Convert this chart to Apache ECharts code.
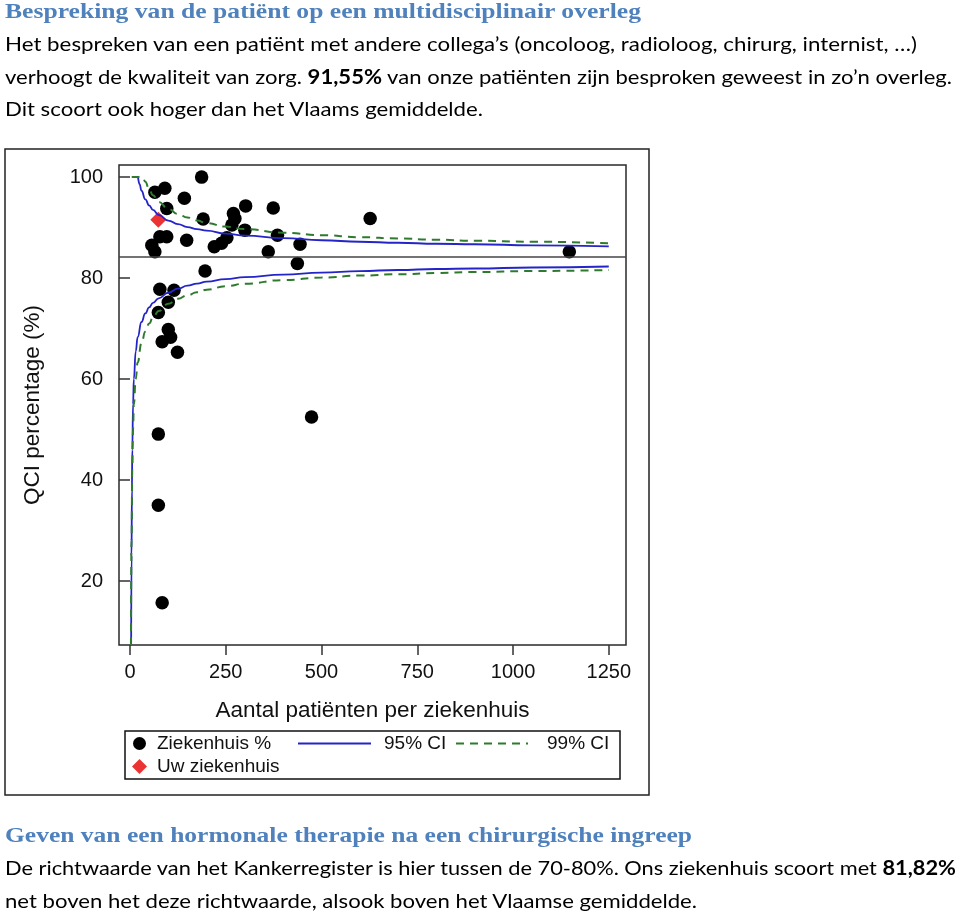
<!DOCTYPE html>
<html>
<head>
<meta charset="utf-8">
<script src="https://cdn.jsdelivr.net/npm/echarts@6/dist/echarts.min.js"></script>
<style>
  html, body { margin: 0; padding: 0; background: #fff; }
  #page { position: relative; width: 960px; height: 915px; overflow: hidden; }
  #chart { position: absolute; left: 0; top: 0; width: 960px; height: 915px; }
  .line { position: absolute; left: 5px; height: 32px; line-height: 32px; white-space: nowrap;
          font-family: Lato, "Open Sans", sans-serif; font-size: 20px; color: #000; transform-origin: 0 50%; }
  .head { font-family: "Liberation Serif", "DejaVu Serif", serif; font-weight: bold; font-size: 22px; color: #4f81bd; }
</style>
</head>
<body>
<div id="page">
  <div id="chart"></div>
  <div class="line head" style="top:-5px" data-w="636">Bespreking van de patiënt op een multidisciplinair overleg</div>
  <div class="line" style="top:27px" data-w="912">Het bespreken van een patiënt met andere collega’s (oncoloog, radioloog, chirurg, internist, …)</div>
  <div class="line" style="top:60px" data-w="947">verhoogt de kwaliteit van zorg. <b>91,55%</b> van onze patiënten zijn besproken geweest in zo’n overleg.</div>
  <div class="line" style="top:92px" data-w="478">Dit scoort ook hoger dan het Vlaams gemiddelde.</div>
  <div class="line head" style="top:819px" data-w="687">Geven van een hormonale therapie na een chirurgische ingreep</div>
  <div class="line" style="top:851px" data-w="951">De richtwaarde van het Kankerregister is hier tussen de 70-80%. Ons ziekenhuis scoort met <b>81,82%</b></div>
  <div class="line" style="top:884px" data-w="692">net boven het deze richtwaarde, alsook boven het Vlaamse gemiddelde.</div>
</div>
<script>
// hospitals: number of patients and QCI percentage
var hospitalCounts = [187, 91, 65, 142, 96, 302, 374, 270, 274, 191, 627, 266, 300, 96, 78, 148, 385, 253, 239, 220,
    57, 444, 65, 361, 1147, 437, 196, 78, 115, 100, 74, 100, 106, 84, 124, 474, 74, 74, 84];
var hospitalPct = [100.0, 97.8, 97.0, 95.8, 93.8, 94.3, 93.9, 92.8, 91.8, 91.7, 91.8, 90.5, 89.5, 88.2, 88.2, 87.5, 88.5, 88.0, 86.9, 86.2,
    86.5, 86.7, 85.2, 85.2, 85.2, 82.9, 81.4, 77.8, 77.6, 75.2, 73.2, 69.8, 68.3, 67.4, 65.3, 52.5, 49.1, 35.0, 15.7];

// own hospital
var ownCount = 74;
var ownPct = 91.55;

// overall mean
var meanPct = 84.3;

// funnel limits
var ci95UpperN = [21, 25, 30, 40, 50, 60, 75, 100, 125, 150, 175, 200, 250, 300, 400, 500, 600, 700, 800, 900, 1050, 1250];
var ci95Upper = [100, 98.6, 97.3, 95.6, 94.4, 93.5, 92.5, 91.4, 90.7, 90.1, 89.7, 89.4, 88.8, 88.4, 87.9, 87.5, 87.2, 87.0, 86.8, 86.7, 86.5, 86.3];
var ci95LowerN = [3, 4, 5, 6, 8, 10, 15, 20, 30, 40, 50, 60, 75, 100, 125, 150, 175, 200, 250, 300, 400, 500, 600, 700, 800, 900, 1050, 1250];
var ci95Lower = [7.3, 25, 38, 46, 55, 60, 65.5, 68.3, 71.3, 73.0, 74.2, 75.1, 76.0, 77.1, 77.9, 78.5, 78.9, 79.3, 79.8, 80.2, 80.7, 81.1, 81.4, 81.6, 81.8, 81.9, 82.1, 82.3];
var ci99UpperN = [4.5, 33, 40, 50, 60, 75, 100, 125, 150, 175, 200, 250, 300, 400, 500, 600, 700, 800, 900, 1050, 1250];
var ci99Upper = [100, 100, 99.1, 97.6, 96.4, 95.1, 93.7, 92.7, 92.0, 91.4, 90.9, 90.2, 89.7, 89.0, 88.5, 88.1, 87.85, 87.6, 87.4, 87.2, 86.9];
var ci99LowerN = [2.5, 4, 6, 8, 10, 15, 20, 30, 40, 50, 60, 75, 100, 125, 150, 175, 200, 250, 300, 400, 500, 600, 700, 800, 900, 1050, 1250];
var ci99Lower = [7.3, 28, 42, 50, 55, 60, 63.3, 67.1, 69.4, 71.0, 72.2, 73.5, 74.9, 75.9, 76.6, 77.2, 77.7, 78.4, 78.9, 79.6, 80.1, 80.5, 80.75, 81.0, 81.2, 81.4, 81.6];

// tick labels
var xTicks = [0, 250, 500, 750, 1000, 1250];
var yTicks = [20, 40, 60, 80, 100];

function pairs(xs, ys) {
    return xs.map(function (x, i) { return [x, ys[i]]; });
}

var fontName = '"Liberation Sans", Arial, sans-serif';
var titleFont = {fontFamily: fontName, fontSize: 22.5, color: '#111'};
var legendText = {fontFamily: fontName, fontSize: 19, color: '#111'};
var blue = '#2424c8';
var green = '#2f7a2f';

function ciLine(name, data, color, type, width) {
    return {
        name: name,
        type: 'line',
        data: data,
        symbol: 'none',
        smooth: 0.5,
        smoothMonotone: 'x',
        z: 5,
        lineStyle: {color: color, width: width, type: type},
        itemStyle: {color: color}
    };
}

function withPad(left) {
    return Object.assign({padding: [0, 0, 0, left]}, legendText);
}

var chart = echarts.init(document.getElementById('chart'));
chart.setOption({
    animation: false,
    grid: {left: 119, top: 165, width: 507, height: 480, show: true, borderColor: '#2a2a2a', borderWidth: 1.5},
    xAxis: {
        type: 'value', min: -28.7, max: 1295,
        splitLine: {show: false},
        axisLine: {show: false},
        axisTick: {show: true, length: 10, customValues: xTicks, lineStyle: {color: '#333', width: 1.5}},
        axisLabel: {customValues: xTicks, margin: 17, fontFamily: fontName, fontSize: 20, color: '#111',
            formatter: function (v) { return String(v); }},
        name: 'Aantal patiënten per ziekenhuis', nameLocation: 'middle', nameGap: 54,
        nameTextStyle: titleFont
    },
    yAxis: {
        type: 'value', min: 7.33, max: 102.4,
        splitLine: {show: false},
        axisLine: {show: false},
        axisTick: {show: true, length: 11, customValues: yTicks, lineStyle: {color: '#333', width: 1.5}},
        axisLabel: {customValues: yTicks, margin: 16, fontFamily: fontName, fontSize: 20, color: '#111',
            formatter: function (v) { return String(v); }},
        name: 'QCI percentage (%)', nameLocation: 'middle', nameGap: 75,
        nameTextStyle: titleFont
    },
    legend: [
        {data: ['Ziekenhuis %'], left: 133, top: 734, padding: 0, itemWidth: 13, itemHeight: 13,
            textStyle: withPad(6)},
        {data: ['95% CI'], left: 297, top: 734, padding: 0, itemWidth: 73, itemHeight: 14,
            itemStyle: {opacity: 0}, textStyle: withPad(8)},
        {data: ['99% CI'], left: 455, top: 734, padding: 0, itemWidth: 72, itemHeight: 14,
            itemStyle: {opacity: 0}, textStyle: withPad(14)},
        {data: ['Uw ziekenhuis'], left: 132, top: 757, padding: 0, itemWidth: 15, itemHeight: 15,
            textStyle: withPad(5)}
    ],
    graphic: [
        {type: 'rect', shape: {x: 5, y: 149, width: 644, height: 646}, style: {fill: 'none', stroke: '#222', lineWidth: 1.5}, silent: true},
        {type: 'rect', shape: {x: 125, y: 731, width: 495, height: 48}, style: {fill: 'none', stroke: '#111', lineWidth: 1.5}, silent: true}
    ],
    series: [
        {
            name: 'Ziekenhuis %',
            type: 'scatter',
            data: pairs(hospitalCounts, hospitalPct),
            symbol: 'circle',
            symbolSize: 13.5,
            z: 2,
            itemStyle: {color: '#000', opacity: 1},
            markLine: {
                silent: true,
                symbol: 'none',
                label: {show: false},
                lineStyle: {color: '#444', width: 1.5, type: 'solid'},
                data: [{yAxis: meanPct}]
            }
        },
        ciLine('95% CI', pairs(ci95UpperN, ci95Upper), blue, 'solid', 1.8),
        ciLine('95% CI', pairs(ci95LowerN, ci95Lower), blue, 'solid', 1.8),
        ciLine('99% CI', pairs(ci99UpperN, ci99Upper), green, [8, 6], 2),
        ciLine('99% CI', pairs(ci99LowerN, ci99Lower), green, [8, 6], 2),
        {
            name: 'Uw ziekenhuis',
            type: 'scatter',
            data: [[ownCount, ownPct]],
            symbol: 'diamond',
            symbolSize: 16,
            z: 4,
            itemStyle: {color: '#e60000'}
        }
    ]
});

// stretch the text lines to the width they take in the picture
var lines = document.querySelectorAll('.line');
for (var i = 0; i < lines.length; i++) {
    var el = lines[i];
    var w = el.getBoundingClientRect().width;
    var target = parseFloat(el.getAttribute('data-w'));
    if (w > 0) el.style.transform = 'scaleX(' + (target / w) + ')';
}
</script>
</body>
</html>
